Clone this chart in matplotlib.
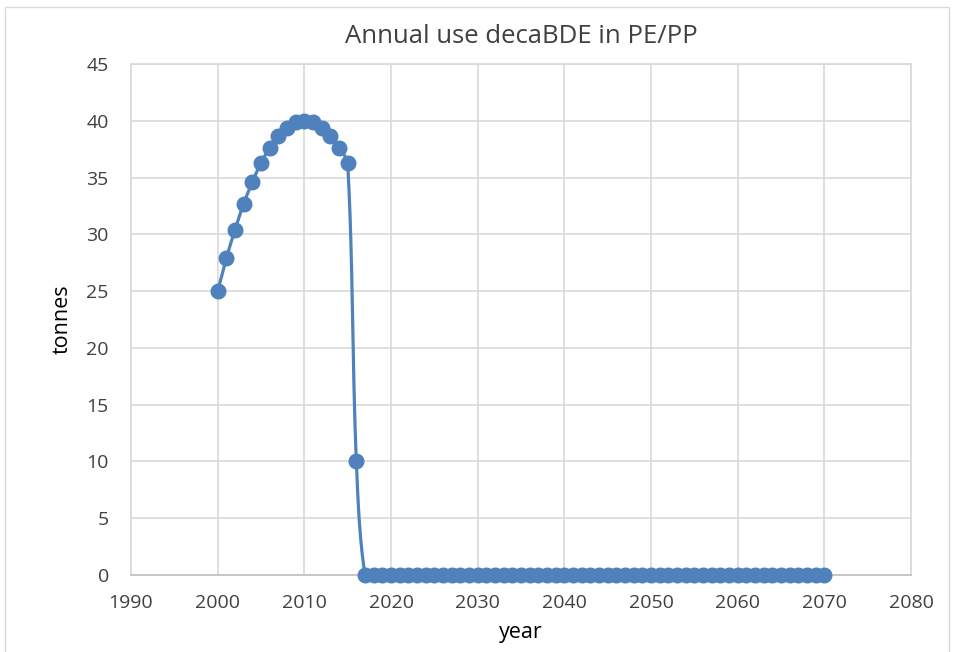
import numpy as np
import matplotlib
matplotlib.use("Agg")
import matplotlib.pyplot as plt
from matplotlib.patches import Rectangle

# data
years = np.arange(2000, 2071)
use_peak = [25.0, 27.9, 30.4, 32.7, 34.6, 36.3, 37.6, 38.7, 39.4, 39.9,
            40.0, 39.9, 39.4, 38.7, 37.6, 36.3, 10.0]
tonnes = np.array(use_peak + [0.0] * (len(years) - len(use_peak)))

xticks = np.arange(1990, 2081, 10)
yticks = np.arange(0, 46, 5)


def smooth(ax, x, y, n=24):
    # smoothed line like Excel: Bezier through the points, done in screen space
    pts = ax.transData.transform(np.column_stack([x, y]))
    P = np.vstack([pts[0], pts, pts[-1]])
    t = np.linspace(0, 1, n, endpoint=False)[:, None]
    out = []
    for i in range(1, len(P) - 2):
        p0, p1, p2, p3 = P[i - 1], P[i], P[i + 1], P[i + 2]
        seg = np.linalg.norm(p2 - p1)
        d1 = p2 - p0
        d2 = p3 - p1
        d1 = d1 / (np.linalg.norm(d1) or 1)
        d2 = d2 / (np.linalg.norm(d2) or 1)
        c1 = p1 + d1 * seg / 3
        c2 = p2 - d2 * seg / 3
        b = (1 - t) ** 3 * p1 + 3 * (1 - t) ** 2 * t * c1 \
            + 3 * (1 - t) * t ** 2 * c2 + t ** 3 * p2
        out.append(b)
    out.append(P[-2][None, :])
    out = np.vstack(out)
    return ax.transData.inverted().transform(out).T


plt.rcParams['font.family'] = ['Open Sans', 'DejaVu Sans']
blue = '#4F81BD'

fig = plt.figure(figsize=(9.56, 6.52), dpi=100)
fig.patches.append(Rectangle((5 / 956, -0.01), 944 / 956, 1 - 7 / 652 + 0.01,
                             transform=fig.transFigure, fill=False,
                             edgecolor='#d9d9d9', linewidth=1))
ax = fig.add_axes([131 / 956, 1 - 575 / 652, 780 / 956, 511 / 652])
ax.set_xlim(1990, 2080)
ax.set_ylim(0, 45)

sx, sy = smooth(ax, years.astype(float), tonnes)
ax.plot(sx, sy, color=blue, linewidth=2.3, zorder=3, clip_on=False)
ax.plot(years, tonnes, 'o', color=blue, markersize=10.5, zorder=4, clip_on=False)

ax.set_xticks(xticks)
ax.set_yticks(yticks)
ax.grid(True, color='#d9d9d9', linewidth=1.2)
ax.set_axisbelow(True)
for s in ['top', 'right', 'left']:
    ax.spines[s].set_color('#d9d9d9')
    ax.spines[s].set_linewidth(1.2)
ax.spines['bottom'].set_color('#bfbfbf')
ax.spines['bottom'].set_linewidth(1.2)
ax.tick_params(length=0, labelsize=14, colors='#404040')
ax.tick_params(axis='x', pad=14)
ax.tick_params(axis='y', pad=16)

ax.set_title('Annual use decaBDE in PE/PP', fontsize=18.5, color='#404040', pad=15)
ax.set_xlabel('year', fontsize=15.5, labelpad=7)
ax.set_ylabel('tonnes', fontsize=15.5, labelpad=10)

fig.savefig('out.png', dpi=100)
